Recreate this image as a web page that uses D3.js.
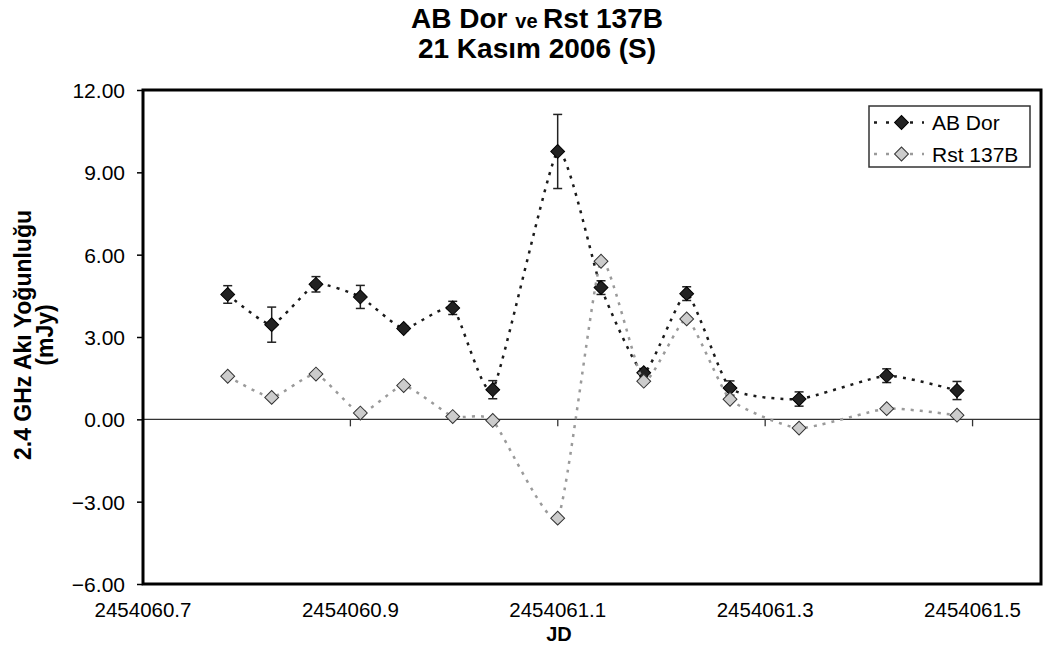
<!DOCTYPE html>
<html>
<head>
<meta charset="utf-8">
<script src="https://cdn.jsdelivr.net/npm/d3@7"></script>
<style>
  body { margin: 0; background: #fff; }
  text { font-family: Arial, "Liberation Sans", sans-serif; fill: #000; }
</style>
</head>
<body>
<div id="chart"></div>
<script>
// Julian dates of the scans (same for both sources)
var jd = [2454060.7817, 2454060.8241, 2454060.8668, 2454060.9096, 2454060.9514,
          2454060.9987, 2454061.0373, 2454061.0999, 2454061.1417, 2454061.1829,
          2454061.2243, 2454061.2661, 2454061.3327, 2454061.4172, 2454061.4850];

// 2.4 GHz flux, mJy
var abDor    = [4.55, 3.45, 4.92, 4.46, 3.31, 4.06, 1.08, 9.76, 4.80, 1.70, 4.58, 1.14, 0.74, 1.59, 1.05];
var abDorErr = [0.32, 0.64, 0.28, 0.42, 0.10, 0.24, 0.33, 1.35, 0.25, 0.15, 0.25, 0.26, 0.26, 0.25, 0.33];
var rst137b  = [1.57, 0.80, 1.65, 0.23, 1.23, 0.10, -0.04, -3.60, 5.76, 1.39, 3.66, 0.73, -0.32, 0.39, 0.15];

var xTicks = [2454060.7, 2454060.9, 2454061.1, 2454061.3, 2454061.5];
var yTicks = [-6, -3, 0, 3, 6, 9, 12];
var seriesNames = ["AB Dor", "Rst 137B"];

var W = 1047, H = 657;
var pLeft = 143, pRight = 1041, pTop = 90, pBottom = 584;

var svg = d3.select('#chart').append('svg')
  .attr('width', W)
  .attr('height', H);

var x = d3.scaleLinear()
  .domain([2454060.7, 2454061.566])
  .range([pLeft, pRight]);

var y = d3.scaleLinear()
  .domain([-6, 12])
  .range([pBottom, pTop]);

// title
var title = svg.append('text')
  .attr('x', 537).attr('y', 28)
  .attr('text-anchor', 'middle')
  .style('font-weight', 'bold');
title.append('tspan').style('font-size', '28px').text('AB Dor ');
title.append('tspan').style('font-size', '20px').text(' ve ');
title.append('tspan').style('font-size', '28px').text(' Rst 137B');

svg.append('text')
  .attr('x', 537).attr('y', 58)
  .attr('text-anchor', 'middle')
  .style('font-weight', 'bold')
  .style('font-size', '28px')
  .text('21 Kasım 2006 (S)');

// y axis
var yAxis = svg.append('g')
  .attr('transform', 'translate(' + pLeft + ',0)')
  .call(d3.axisLeft(y).tickValues(yTicks).tickFormat(d3.format('.2f')).tickSize(6).tickPadding(12));
yAxis.select('.domain').remove();
yAxis.selectAll('line').attr('stroke', '#000').attr('stroke-width', 1.5);
yAxis.selectAll('text').style('font-size', '21px').attr('dy', '0.36em');

// zero line with x ticks
svg.append('line')
  .attr('x1', pLeft).attr('x2', pRight)
  .attr('y1', y(0)).attr('y2', y(0))
  .attr('stroke', '#333').attr('stroke-width', 1.3);

svg.selectAll('.xtick')
  .data(xTicks)
  .enter()
  .append('line').classed('xtick', true)
  .attr('x1', function(d) { return x(d); })
  .attr('x2', function(d) { return x(d); })
  .attr('y1', y(0))
  .attr('y2', y(0) + 7)
  .attr('stroke', '#333').attr('stroke-width', 1.3);

svg.selectAll('.xlab')
  .data(xTicks)
  .enter()
  .append('text').classed('xlab', true)
  .attr('x', function(d) { return x(d); })
  .attr('y', 617)
  .attr('text-anchor', 'middle')
  .style('font-size', '20.5px')
  .text(function(d) { return d3.format('.1f')(d); });

svg.append('text')
  .attr('x', 559).attr('y', 641)
  .attr('text-anchor', 'middle')
  .style('font-weight', 'bold')
  .style('font-size', '20px')
  .text('JD');

// y axis title
var yt = svg.append('text')
  .attr('transform', 'translate(0,335) rotate(-90)')
  .attr('text-anchor', 'middle')
  .style('font-weight', 'bold')
  .style('font-size', '23px');
yt.append('tspan').attr('x', 0).attr('y', 31).text('2.4 GHz Akı Yoğunluğu');
yt.append('tspan').attr('x', 0).attr('y', 53).text('(mJy)');

// plot frame
svg.append('rect')
  .attr('x', pLeft).attr('y', pTop)
  .attr('width', pRight - pLeft).attr('height', pBottom - pTop)
  .attr('fill', 'none')
  .attr('stroke', '#000').attr('stroke-width', 3);

var diamond = d3.symbol().type(d3.symbolSquare).size(96);

var line = d3.line()
  .x(function(d) { return x(d[0]); })
  .y(function(d) { return y(d[1]); })
  .curve(d3.curveCardinal.tension(0.5));

var abData = jd.map(function(d, i) { return [d, abDor[i], abDorErr[i]]; });
var rstData = jd.map(function(d, i) { return [d, rst137b[i]]; });

// AB Dor
svg.append('path')
  .datum(abData)
  .attr('d', line)
  .attr('fill', 'none')
  .attr('stroke', '#1a1a1a')
  .attr('stroke-width', 2.5)
  .attr('stroke-dasharray', '3,6');

var err = svg.selectAll('.err')
  .data(abData)
  .enter()
  .append('g').classed('err', true)
  .attr('stroke', '#222').attr('stroke-width', 1.5);
err.append('line')
  .attr('x1', function(d) { return x(d[0]); })
  .attr('x2', function(d) { return x(d[0]); })
  .attr('y1', function(d) { return y(d[1] + d[2]); })
  .attr('y2', function(d) { return y(d[1] - d[2]); });
err.append('line')
  .attr('x1', function(d) { return x(d[0]) - 4.5; })
  .attr('x2', function(d) { return x(d[0]) + 4.5; })
  .attr('y1', function(d) { return y(d[1] + d[2]); })
  .attr('y2', function(d) { return y(d[1] + d[2]); });
err.append('line')
  .attr('x1', function(d) { return x(d[0]) - 4.5; })
  .attr('x2', function(d) { return x(d[0]) + 4.5; })
  .attr('y1', function(d) { return y(d[1] - d[2]); })
  .attr('y2', function(d) { return y(d[1] - d[2]); });

svg.selectAll('.abm')
  .data(abData)
  .enter()
  .append('path').classed('abm', true)
  .attr('d', diamond)
  .attr('transform', function(d) { return 'translate(' + x(d[0]) + ',' + y(d[1]) + ') rotate(45)'; })
  .attr('fill', '#222')
  .attr('stroke', '#000')
  .attr('stroke-width', 1);

// Rst 137B
svg.append('path')
  .datum(rstData)
  .attr('d', line)
  .attr('fill', 'none')
  .attr('stroke', '#9a9a9a')
  .attr('stroke-width', 2.5)
  .attr('stroke-dasharray', '3,6');

svg.selectAll('.rsm')
  .data(rstData)
  .enter()
  .append('path').classed('rsm', true)
  .attr('d', diamond)
  .attr('transform', function(d) { return 'translate(' + x(d[0]) + ',' + y(d[1]) + ') rotate(45)'; })
  .attr('fill', '#cccccc')
  .attr('stroke', '#333')
  .attr('stroke-width', 1);

// legend
var lg = svg.append('g');
lg.append('rect')
  .attr('x', 869).attr('y', 106)
  .attr('width', 161).attr('height', 61)
  .attr('fill', '#fff')
  .attr('stroke', '#333').attr('stroke-width', 1.5);

var legendStyle = [
  { line: '#1a1a1a', fill: '#222', stroke: '#000' },
  { line: '#9a9a9a', fill: '#cccccc', stroke: '#333' }
];

seriesNames.forEach(function(name, i) {
  var ly = 122.5 + i * 31.5;
  lg.append('line')
    .attr('x1', 874).attr('x2', 924)
    .attr('y1', ly).attr('y2', ly)
    .attr('stroke', legendStyle[i].line)
    .attr('stroke-width', 2.5)
    .attr('stroke-dasharray', '3,9');
  lg.append('path')
    .attr('d', diamond)
    .attr('transform', 'translate(901.5,' + ly + ') rotate(45)')
    .attr('fill', legendStyle[i].fill)
    .attr('stroke', legendStyle[i].stroke);
  lg.append('text')
    .attr('x', 932).attr('y', ly + 7.5)
    .style('font-size', '21px')
    .text(name);
});
</script>
</body>
</html>
